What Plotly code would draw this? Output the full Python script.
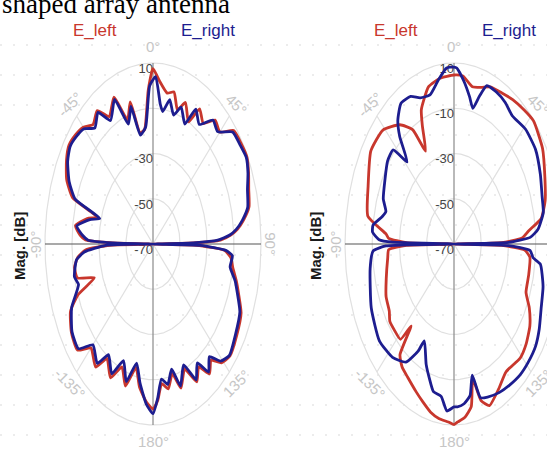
import numpy as np
import plotly.graph_objects as go

# ---- radiation pattern data (angle in degrees, magnitude in dB) ----
# Left panel
ang_a_left = [-180, -176, -171, -167, -162, -157, -152, -146, -142, -135, -130, -123, -116, -112,
              -109, -105, -100, -96, -93, -91, -90, -89, -88, -86, -82, -77, -74, -71, -66, -60,
              -55, -50, -45, -40, -35, -30, -24, -19, -15, -11, -7, -3, 0, 4, 9, 13, 17, 21, 26,
              30, 35, 40, 45, 50, 56, 61, 66, 71, 77, 81, 84, 86, 88, 89, 90, 91, 93, 96, 100,
              105, 109, 115, 123, 131, 136, 140, 144, 148, 152, 157, 162, 166, 170, 174, 177, 180]
db_a_left = [3, 0, -6, -14, -4, -11, -3, -9, -1, -5, 3, 2, -2, -10,
             -24, -12, -11, -14, -20, -38, -70, -40, -20, -16, -12, -20, -27, -7, 0, 4,
             6, 5, 3, -1, 2, -5, 1, -12, -5, -20, -19, -2, 7.5, 2, -2.5, -1, -8, -3, -10,
             -1, -5, 1.5, 0, 8, 9, 9.5, 7.5, 5, 3, -2, -7, -12, -20, -40, -70, -38, -17, -12, -10,
             -6, -3, 2, 4, 5.5, 3, -3, 1, -6, -1, -10, -3, -11, -5, -8, -1, 3]

ang_a_right = [-180, -176, -171, -167, -162, -157, -152, -146, -142, -135, -130, -123, -115, -108,
               -104, -97, -94, -91, -90, -89, -88, -86, -82, -77, -74, -71, -66, -60, -55, -50,
               -45, -40, -35, -30, -24, -19, -15, -11, -6, -2, 1.5, 5, 7, 11, 15, 19, 24, 28, 33,
               39, 44, 50, 56, 61, 66, 71, 77, 81, 84, 86, 88, 89, 90, 91, 93, 95, 100, 105, 109,
               115, 123, 131, 136, 140, 144, 148, 152, 157, 162, 166, 170, 174, 177, 180]
db_a_right = [5, 1, -8, -16, -6, -14, -5, -11, -3, -7, 2, 1.5, -3.5, -12,
              -10, -13, -19, -35, -70, -40, -22, -18, -13, -22, -29, -9, -2, 3, 5, 4,
              2, -3, 1, -7, 0, -14, -7, -21, -18, 0, 4, -8, -11, -5, -11, -6, -12, -2.5, -7,
              0.5, -1, 7, 8, 9, 7, 4, 2, -3, -8, -13, -22, -40, -70, -35, -16, -11, -12, -7, -4,
              1, 3, 5, 2, -5, 0, -8, -2, -12, -4, -13, -7, -10, -2, 5]

# Right panel
ang_b_left = [-180, -177, -172, -167, -162, -157, -150, -145, -141, -139, -137, -131, -126, -122,
              -115, -107, -97, -93, -91, -90, -89, -87, -85, -79, -68, -56, -46, -37, -31, -27,
              -24, -22, -15, -8, 0, 5, 11, 16, 21, 28, 34, 41, 47, 57, 66, 74, 80, 84, 87, 89,
              90, 91, 93, 96, 104, 112, 117, 123, 130, 136, 146, 153, 160, 164, 167, 170, 174,
              178, 180]
db_b_left = [9.8, 8.8, 8, 6.3, 3.5, 1, -2, -3.6, -7, -22, -12.4, -12, -11.8, -14,
             -15, -18, -21, -22, -35, -70, -35, -22, -20, -5.6, -2, 3.6, 2.5, -4, -11, -24,
             -13, -6, 2, 4, 4.7, 4.5, 0.8, 2, 4.4, 5.5, 7, 8.5, 9.8, 7.5, 3, -0.4, -5, -15, -20, -35,
             -70, -35, -18, -14, -13.5, -13, -8, -3.6, -1, 0, -1.8, 2, 6, 2, -9, 3, 7,
             8.7, 9.8]

ang_b_right = [-180, -176, -172, -167, -163, -159, -153, -151, -146, -138, -128, -115, -100, -93,
               -91, -90, -89, -88, -85, -82, -77, -74, -69, -61, -53, -47, -43.5, -40, -37, -32,
               -26, -21, -15, -9, -4, 0, 1.5, 6, 10, 13, 16, 19, 25, 31, 37, 46, 55, 64, 72, 78,
               84, 87, 89, 90, 91, 93, 96, 98, 106, 114, 121, 127, 134, 140, 147, 153, 160, 164,
               167, 170, 174, 178, 180]
db_b_right = [2, 4, -2, -3, -8, -13, -22, -16, -7, -2.6, -0.5, -3, -7.5, -10.5,
              -20, -70, -25, -15, -10, -10, -16, -18, -14.4, -12, -9, -9, -20, -8, -1.5, 3.4,
              2.6, -0.8, -1.8, 3.4, 8, 8.2, 7.8, 2, -4, -8.5, -2, 4, 4, 3, 1, 3, 3, 0.5, -2, -3,
              -8, -14, -30, -70, -30, -14, -11.6, -6, -2, 0, 3, 5, 5.5, 5.5, 4.5, 3.6, 2, 0.7,
              -10.5, -2, 1, 2, 2]

r_ticks = [10, -10, -30, -50, -70]
ang_ticks = [0, 45, 90, 135, 180, -135, -90, -45]
ang_labels = ["0°", "45°", "90°", "135°", "180°", "-135°", "-90°", "-45°"]
series_names = ["E_left", "E_right"]
DB_MIN, DB_MAX = -70, 10

RED = "#c8372d"
BLUE = "#1d1d8f"
GRID = "#e0e0e0"
SANS = "Liberation Sans, Arial, sans-serif"

W, H = 547, 455


def to_xy(ang, db):
    rho = (np.asarray(db, float) - DB_MIN) / (DB_MAX - DB_MIN)
    t = np.radians(np.asarray(ang, float))
    return rho * np.sin(t), rho * np.cos(t)


fig = go.Figure()

# pixel layout of each panel: edges, centre x and px per unit radius
panels = [
    dict(xa="x", ya="y", x0=0, x1=273, cx=153, sx=108,
         series=[(ang_a_left, db_a_left), (ang_a_right, db_a_right)],
         rlabels=[10, -30, -50, -70], mag_x=20),
    dict(xa="x2", ya="y2", x0=273, x1=547, cx=454, sx=109,
         series=[(ang_b_left, db_b_left), (ang_b_right, db_b_right)],
         rlabels=r_ticks, mag_x=316),
]
CY, SY = 244, 181

annotations = []
phi = np.linspace(0, 2 * np.pi, 361)
for p in panels:
    xa, ya = p["xa"], p["ya"]
    # concentric rings
    for rv in r_ticks[:-1]:
        rho = (rv - DB_MIN) / (DB_MAX - DB_MIN)
        fig.add_trace(go.Scatter(x=rho * np.sin(phi), y=rho * np.cos(phi), mode="lines",
                                 line=dict(color=GRID, width=1.2), hoverinfo="skip",
                                 showlegend=False, xaxis=xa, yaxis=ya))
    # spokes
    for a in [45, 135, -45, -135]:
        t = np.radians(a)
        fig.add_trace(go.Scatter(x=[0, np.sin(t)], y=[0, np.cos(t)], mode="lines",
                                 line=dict(color=GRID, width=1.2), hoverinfo="skip",
                                 showlegend=False, xaxis=xa, yaxis=ya))
    # main axes
    fig.add_trace(go.Scatter(x=[-1, 1], y=[0, 0], mode="lines",
                             line=dict(color="#555555", width=1.2), hoverinfo="skip",
                             showlegend=False, xaxis=xa, yaxis=ya))
    fig.add_trace(go.Scatter(x=[0, 0], y=[-1, 1], mode="lines",
                             line=dict(color="#8a8a8a", width=1.2), hoverinfo="skip",
                             showlegend=False, xaxis=xa, yaxis=ya))
    # radial tick labels
    rl = p["rlabels"]
    fig.add_trace(go.Scatter(x=[0] * len(rl),
                             y=[(v - DB_MIN) / (DB_MAX - DB_MIN) for v in rl],
                             mode="text", text=[str(v) for v in rl],
                             textposition="bottom left",
                             textfont=dict(family=SANS, size=13, color="#444444"),
                             hoverinfo="skip", showlegend=False, xaxis=xa, yaxis=ya))
    # pattern curves
    for (ang, db), col, name in zip(p["series"], [RED, BLUE], series_names):
        x, y = to_xy(ang, db)
        fig.add_trace(go.Scatter(x=x, y=y, mode="lines", name=name,
                                 line=dict(color=col, width=2.8, shape="spline", smoothing=0.5),
                                 showlegend=False, xaxis=xa, yaxis=ya))
    # angle labels
    for a, lab in zip(ang_ticks, ang_labels):
        t = np.radians(a)
        rot = a if abs(a) <= 90 else (a - 180 if a > 0 else a + 180)
        if a in (0, 180):
            rot = 0
        annotations.append(dict(x=1.09 * np.sin(t), y=1.09 * np.cos(t), xref=xa, yref=ya,
                                text=lab, showarrow=False, textangle=rot,
                                xanchor="center", yanchor="middle",
                                font=dict(family=SANS, size=15, color="#c6c6c6")))
    # series labels
    for name, col, off in zip(series_names, [RED, BLUE], [-58, 55]):
        annotations.append(dict(x=(p["cx"] + off) / W, y=1 - 31 / H, xref="paper", yref="paper",
                                text=name, showarrow=False, xanchor="center", yanchor="middle",
                                font=dict(family=SANS, size=17, color=col)))
    # radial axis title
    annotations.append(dict(x=p["mag_x"] / W, y=1 - 246 / H, xref="paper", yref="paper",
                            text="<b>Mag. [dB]</b>", showarrow=False, textangle=-90,
                            xanchor="center", yanchor="middle",
                            font=dict(family=SANS, size=15, color="#1a1a1a")))

annotations.append(dict(x=0, y=1, xref="paper", yref="paper", xanchor="left", yanchor="middle",
                        yshift=-4, text="shaped array antenna", showarrow=False,
                        font=dict(family="Liberation Serif, Times New Roman, serif", size=27,
                                  color="#000000")))

# faint dotted background rows
shapes = [dict(type="line", xref="paper", yref="paper", x0=0, x1=1,
               y0=1 - yy / H, y1=1 - yy / H, layer="below",
               line=dict(color="#e6e6e6", width=1.5, dash="2px,11px"))
          for yy in range(45, H, 30)]

ax_common = dict(showgrid=False, zeroline=False, showticklabels=False, showline=False,
                 ticks="", fixedrange=True)
layout = dict(width=W, height=H, margin=dict(l=0, r=0, t=0, b=0),
              paper_bgcolor="white", plot_bgcolor="rgba(0,0,0,0)", showlegend=False,
              annotations=annotations, shapes=shapes)
for i, p in enumerate(panels):
    suf = "" if i == 0 else str(i + 1)
    layout["xaxis" + suf] = dict(domain=[p["x0"] / W, p["x1"] / W],
                                 range=[(p["x0"] - p["cx"]) / p["sx"], (p["x1"] - p["cx"]) / p["sx"]],
                                 anchor="y" + suf, **ax_common)
    layout["yaxis" + suf] = dict(domain=[0, 1], range=[-(H - CY) / SY, CY / SY],
                                 anchor="x" + suf, **ax_common)

fig.update_layout(**layout)
fig.write_html("out.html")
